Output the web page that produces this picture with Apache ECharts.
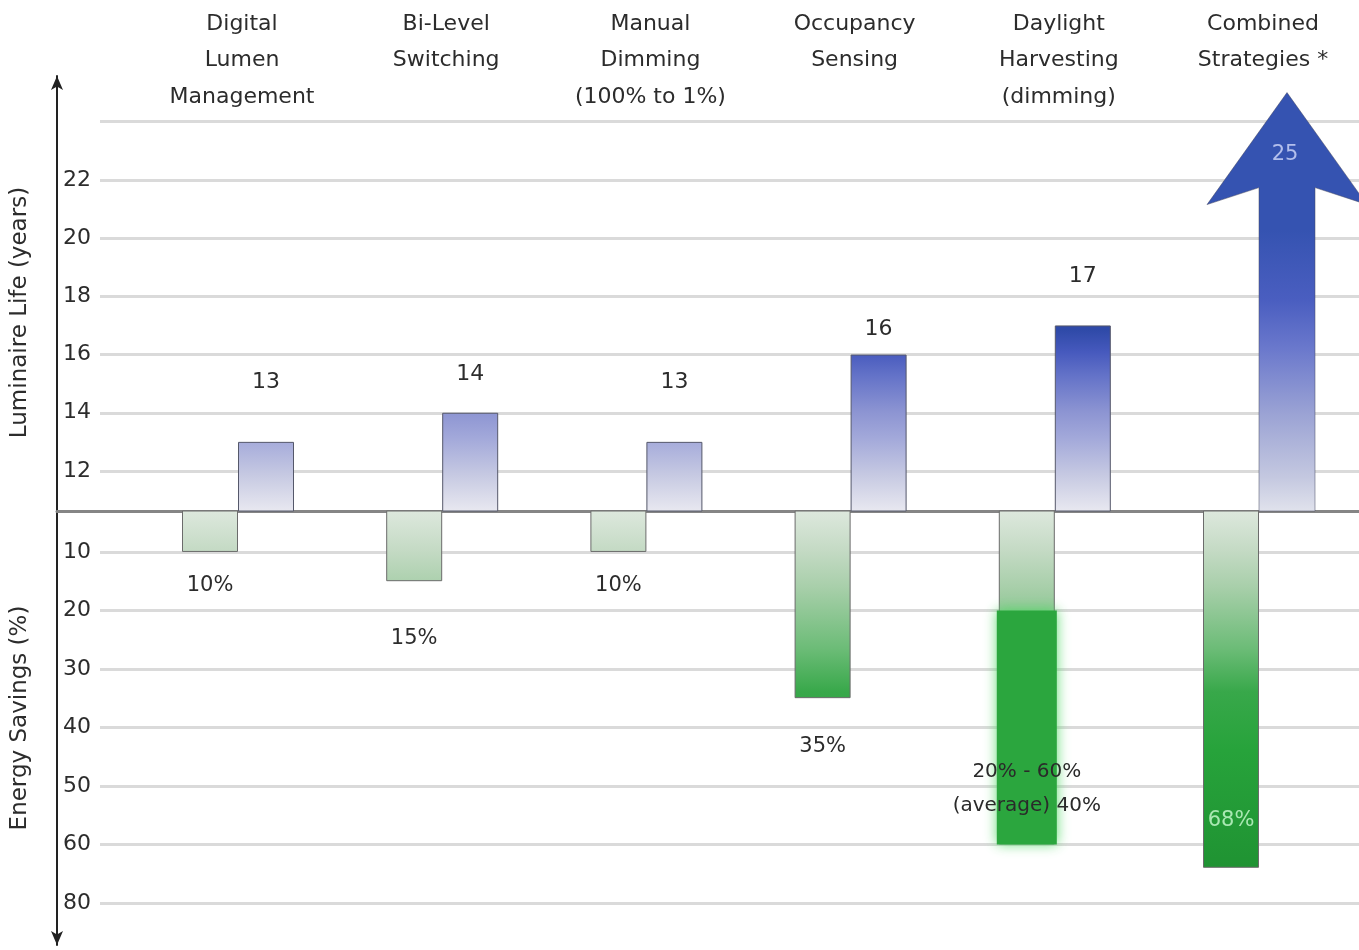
<!DOCTYPE html>
<html>
<head>
<meta charset="utf-8">
<script src="https://cdn.jsdelivr.net/npm/echarts@6/dist/echarts.min.js"></script>
<style>
  html, body { margin: 0; padding: 0; background: #ffffff; }
  #chart { width: 1359px; height: 950px; }
</style>
</head>
<body>
<div id="chart"></div>
<script>
// Lighting control strategies and their effect on luminaire life / energy use
const strategies = [
  'Digital\nLumen\nManagement',
  'Bi-Level\nSwitching',
  'Manual\nDimming\n(100% to 1%)',
  'Occupancy\nSensing',
  'Daylight\nHarvesting\n(dimming)',
  'Combined\nStrategies *'
];
const lifeYears = [13, 14, 13, 16, 17, 25];
const lifeOpenEnded = [false, false, false, false, false, true];
const savingsLow = [10, 15, 10, 35, 20, 68];
const savingsHigh = [10, 15, 10, 35, 60, 68];
const savingsAverage = [null, null, null, null, 40, null];

// Axis ticks and gridlines
const lifeGridLines = [12, 14, 16, 18, 20, 22, 24];
const lifeTickLabels = [12, 14, 16, 18, 20, 22];
const savingsTicks = [10, 20, 30, 40, 50, 60, 80];

// Label offsets (px) for each column
const lifeLabelGap = [49, 27, 49, 14, 38, 0];
const savingsLabelGap = [23, 47, 23, 38, 22, 37];
const savingsLabelInside = [false, false, false, false, true, true];

// Layout
const BASE_Y = 511;
const TOP_GRID = { top: 76, height: BASE_Y - 76 };
const BOTTOM_GRID = { top: BASE_Y, height: 434 };
const X_MIN = -0.8864, X_MAX = 5.4897, GRID_X0 = -0.6758;
const BAR_W = 56;
const TEXT = '#2c2c2c';
const FONT = 'DejaVu Sans';

// The savings axis squeezes 60-80 % into a single gridline step
function savingsToAxis(v) { return v <= 60 ? v : 60 + (v - 60) / 2; }
function axisToSavings(p) { return p <= 60 ? p : 60 + (p - 60) * 2; }

const blueFill = new echarts.graphic.LinearGradient(0, BASE_Y, 0, 330, [
  { offset: 0, color: '#e8e8f0' },
  { offset: 0.2, color: '#c6c9e2' },
  { offset: 0.4, color: '#a3a9da' },
  { offset: 0.55, color: '#8c94d2' },
  { offset: 0.75, color: '#6372c8' },
  { offset: 0.88, color: '#4659bd' },
  { offset: 1, color: '#2f4aa8' }
], true);

const arrowFill = new echarts.graphic.LinearGradient(0, BASE_Y, 0, 230, [
  { offset: 0, color: '#e0e2ec' },
  { offset: 0.12, color: '#c4c8e0' },
  { offset: 0.35, color: '#9aa2d4' },
  { offset: 0.58, color: '#6a78cc' },
  { offset: 0.75, color: '#4a5ec0' },
  { offset: 1, color: '#3553b1' }
], true);

const greenFill = new echarts.graphic.LinearGradient(0, BASE_Y, 0, 873, [
  { offset: 0, color: '#dde8dd' },
  { offset: 0.11, color: '#c4dac4' },
  { offset: 0.21, color: '#a8cfaa' },
  { offset: 0.38, color: '#6cbc77' },
  { offset: 0.5, color: '#38a84a' },
  { offset: 0.66, color: '#27a33b' },
  { offset: 1, color: '#1f9232' }
], true);

const gridLineStyle = { color: '#dadada', width: 3, type: 'solid' };

function gridMarkLine(values) {
  return {
    silent: true,
    z: 1,
    animation: false,
    symbol: ['none', 'none'],
    label: { show: false },
    emphasis: { disabled: true },
    lineStyle: gridLineStyle,
    data: values.map(v => [{ coord: [GRID_X0, v] }, { coord: [X_MAX, v] }])
  };
}

function savingsLabel(i) {
  if (savingsLow[i] !== savingsHigh[i]) {
    return savingsLow[i] + '% - ' + savingsHigh[i] + '%\n(average) ' + savingsAverage[i] + '%';
  }
  return savingsHigh[i] + '%';
}

const lifeBarData = [];
const lifeArrowData = [];
lifeYears.forEach((v, i) => {
  if (lifeOpenEnded[i]) {
    lifeArrowData.push([i, v]);
  } else {
    lifeBarData.push({ value: [i, v], label: { distance: lifeLabelGap[i] } });
  }
});

const savingsBarData = savingsHigh.map((v, i) => {
  const ranged = savingsLow[i] !== savingsHigh[i];
  return {
    value: [i, savingsToAxis(v)],
    label: {
      show: !ranged,
      position: savingsLabelInside[i] ? 'insideBottom' : 'bottom',
      distance: savingsLabelGap[i],
      color: savingsLabelInside[i] ? '#a9e8b2' : TEXT
    }
  };
});

const savingsRangeData = [];
savingsLow.forEach((lo, i) => {
  if (lo !== savingsHigh[i]) {
    savingsRangeData.push([i, savingsToAxis(lo), savingsToAxis(savingsHigh[i])]);
  }
});

const chart = echarts.init(document.getElementById('chart'), null, { renderer: 'canvas' });

chart.setOption({
  animation: false,
  backgroundColor: '#ffffff',
  textStyle: { fontFamily: FONT },
  grid: [
    { left: 57, right: 0, top: TOP_GRID.top, height: TOP_GRID.height, containLabel: false, outerBoundsMode: 'none' },
    { left: 57, right: 0, top: BOTTOM_GRID.top, height: BOTTOM_GRID.height, containLabel: false, outerBoundsMode: 'none' }
  ],
  xAxis: [
    {
      type: 'value', gridIndex: 0, position: 'bottom', min: X_MIN, max: X_MAX,
      axisLine: { show: true, onZero: false, lineStyle: { color: '#858585', width: 3 } },
      axisTick: { show: false }, axisLabel: { show: false }, splitLine: { show: false }
    },
    {
      type: 'value', gridIndex: 0, position: 'top', min: X_MIN, max: X_MAX,
      axisLine: { show: false, onZero: false }, axisTick: { show: false }, splitLine: { show: false },
      axisLabel: {
        customValues: strategies.map((s, i) => i),
        formatter: v => strategies[Math.round(v)],
        margin: 70,
        verticalAlign: 'top',
        align: 'center',
        lineHeight: 36.5,
        fontSize: 22,
        color: TEXT,
        padding: [0, 0, 0, 8]
      }
    },
    {
      type: 'value', gridIndex: 1, min: X_MIN, max: X_MAX, show: false
    }
  ],
  yAxis: [
    {
      type: 'value', gridIndex: 0, min: 10.625, max: 25.57,
      name: 'Luminaire Life (years)', nameLocation: 'middle', nameRotate: 90, nameGap: 25,
      nameTextStyle: { fontSize: 23, color: TEXT, padding: [0, 38, 0, 0] },
      axisLine: { show: true, onZero: false, symbol: ['none', 'arrow'], symbolSize: [9, 14], lineStyle: { color: '#222', width: 2 } },
      axisTick: { show: false },
      splitLine: { show: false },
      axisLabel: { customValues: lifeTickLabels, inside: true, margin: 6, fontSize: 22, color: TEXT }
    },
    {
      type: 'value', gridIndex: 1, inverse: true, min: 3, max: 77.2,
      name: 'Energy Savings (%)', nameLocation: 'middle', nameRotate: 90, nameGap: 25,
      nameTextStyle: { fontSize: 23, color: TEXT, padding: [0, 0, 0, 20] },
      axisLine: { show: true, onZero: false, symbol: ['arrow', 'none'], symbolSize: [9, 14], lineStyle: { color: '#222', width: 2 } },
      axisTick: { show: false },
      splitLine: { show: false },
      axisLabel: {
        customValues: savingsTicks.map(savingsToAxis),
        formatter: v => String(Math.round(axisToSavings(v))),
        inside: true, margin: 6, fontSize: 22, color: TEXT
      }
    }
  ],
  series: [
    // gridlines of the life row
    {
      type: 'line', name: 'life-grid', xAxisIndex: 0, yAxisIndex: 0, data: [], silent: true,
      markLine: gridMarkLine(lifeGridLines)
    },
    // gridlines of the savings row
    {
      type: 'line', name: 'savings-grid', xAxisIndex: 2, yAxisIndex: 1, data: [], silent: true,
      markLine: gridMarkLine(savingsTicks.map(savingsToAxis))
    },
    // empty left slot in the life row
    {
      type: 'bar', name: 'life-slot', xAxisIndex: 0, yAxisIndex: 0, data: [],
      barWidth: BAR_W, barGap: '0%', silent: true
    },
    {
      type: 'bar', name: 'Luminaire Life', xAxisIndex: 0, yAxisIndex: 0,
      data: lifeBarData, barWidth: BAR_W, barGap: '0%', z: 3,
      itemStyle: { color: blueFill, borderColor: '#55586a', borderWidth: 1 },
      label: { show: true, position: 'top', fontSize: 22, color: TEXT, formatter: p => String(p.value[1]) }
    },
    {
      type: 'custom', name: 'Luminaire Life (combined)', xAxisIndex: 0, yAxisIndex: 0,
      data: lifeArrowData, z: 3,
      renderItem: (params, api) => {
        const tip = api.coord([api.value(0), api.value(1)]);
        const cs = params.coordSys;
        const bottom = cs.y + cs.height;
        const half = BAR_W / 2;
        const cx = tip[0] + half;
        const headBase = tip[1] + 112;
        const notch = headBase - 17;
        const wing = 80;
        return {
          type: 'group',
          children: [
            {
              type: 'polygon',
              shape: { points: [
                [cx - half, bottom], [cx - half, notch], [cx - wing, headBase], [cx, tip[1]],
                [cx + wing, headBase], [cx + half, notch], [cx + half, bottom]
              ] },
              style: { fill: arrowFill, stroke: 'rgba(70,72,95,0.5)', lineWidth: 1 }
            },
            {
              type: 'text', x: cx - 2, y: tip[1] + 62,
              style: { text: String(api.value(1)), fill: '#b3bfec', font: '21px ' + FONT, align: 'center', verticalAlign: 'middle' }
            }
          ]
        };
      }
    },
    {
      type: 'bar', name: 'Energy Savings', xAxisIndex: 2, yAxisIndex: 1,
      data: savingsBarData, barWidth: BAR_W, barGap: '0%', z: 3,
      itemStyle: { color: greenFill, borderColor: '#6b6b6b', borderWidth: 1 },
      label: { fontSize: 21, formatter: p => savingsLabel(p.dataIndex) }
    },
    // empty right slot in the savings row
    {
      type: 'bar', name: 'savings-slot', xAxisIndex: 2, yAxisIndex: 1, data: [],
      barWidth: BAR_W, barGap: '0%', silent: true
    },
    {
      type: 'custom', name: 'Energy Savings (range)', xAxisIndex: 2, yAxisIndex: 1,
      data: savingsRangeData, z: 4,
      renderItem: (params, api) => {
        const x = api.value(0);
        const a = api.coord([x, api.value(1)]);
        const b = api.coord([x, api.value(2)]);
        const cx = a[0] - BAR_W / 2;
        const i = Math.round(x);
        return {
          type: 'rect',
          shape: { x: cx - 30, y: a[1], width: 60, height: b[1] - a[1] },
          style: { fill: '#2ba63e', shadowBlur: 12, shadowColor: 'rgba(80,215,100,0.9)' },
          textContent: {
            style: { text: savingsLabel(i), fill: '#2a2a2a', font: '20px ' + FONT, lineHeight: 34, align: 'center' }
          },
          textConfig: { position: 'insideBottom', distance: savingsLabelGap[i] }
        };
      }
    }
  ]
});
</script>
</body>
</html>
